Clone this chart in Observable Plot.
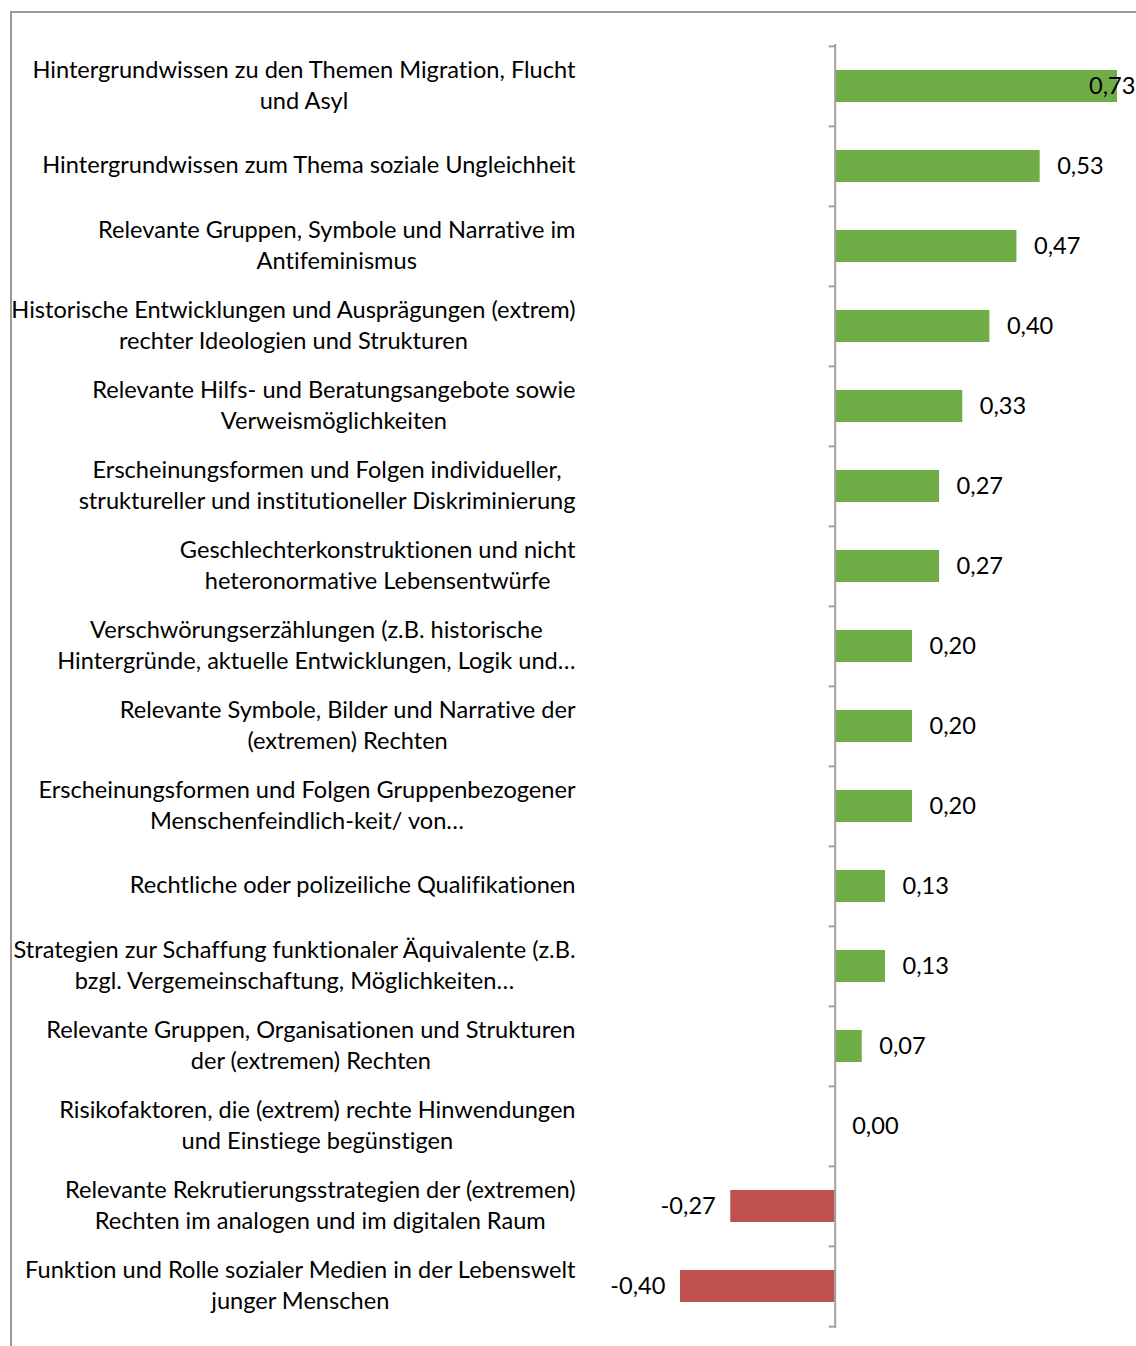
<!DOCTYPE html>
<html><head><meta charset="utf-8">
<script src="https://cdn.jsdelivr.net/npm/d3@7"></script>
<script src="https://cdn.jsdelivr.net/npm/@observablehq/plot@0.6"></script>
<style>
body{margin:0;background:#fff;}
#wrap{position:relative;width:1136px;height:1346px;overflow:hidden;}
#border{position:absolute;left:10px;top:11px;width:1200px;height:1400px;border-left:2px solid #9a9a9a;border-top:2px solid #9a9a9a;}
#chart{position:absolute;left:0;top:0;}
#chart svg text{font-variant-ligatures:none;font-feature-settings:"liga" 0;}
</style></head><body>
<div id="wrap"><div id="border"></div><div id="chart"></div></div>
<script>
const categories = [
  "Hintergrundwissen zu den Themen Migration, Flucht\nund Asyl",
  "Hintergrundwissen zum Thema soziale Ungleichheit",
  "Relevante Gruppen, Symbole und Narrative im\nAntifeminismus",
  "Historische Entwicklungen und Ausprägungen (extrem)\nrechter Ideologien und Strukturen",
  "Relevante Hilfs- und Beratungsangebote sowie\nVerweismöglichkeiten",
  "Erscheinungsformen und Folgen individueller,\nstruktureller und institutioneller Diskriminierung",
  "Geschlechterkonstruktionen und nicht\nheteronormative Lebensentwürfe",
  "Verschwörungserzählungen (z.B. historische\nHintergründe, aktuelle Entwicklungen, Logik und…",
  "Relevante Symbole, Bilder und Narrative der\n(extremen) Rechten",
  "Erscheinungsformen und Folgen Gruppenbezogener\nMenschenfeindlich-keit/ von…",
  "Rechtliche oder polizeiliche Qualifikationen",
  "Strategien zur Schaffung funktionaler Äquivalente (z.B.\nbzgl. Vergemeinschaftung, Möglichkeiten…",
  "Relevante Gruppen, Organisationen und Strukturen\nder (extremen) Rechten",
  "Risikofaktoren, die (extrem) rechte Hinwendungen\nund Einstiege begünstigen",
  "Relevante Rekrutierungsstrategien der (extremen)\nRechten im analogen und im digitalen Raum",
  "Funktion und Rolle sozialer Medien in der Lebenswelt\njunger Menschen"
];
const values = [0.73, 0.53, 0.47, 0.40, 0.33, 0.27, 0.27, 0.20, 0.20, 0.20, 0.13, 0.13, 0.07, 0.00, -0.27, -0.40];
const xDomain = [-0.40, 0.73];

const data = categories.map((c, i) => ({cat: c, v: values[i]}));
const fmt = v => d3.format(".2f")(v).replace(".", ",").replace("\u2212", "-");

const FONT = 23.6;
const W = 1136, H = 1346, MT = 44, MB = 18;
const step = (H - MT - MB) / categories.length;
const axisColor = "#a0a0a0";
const maxV = d3.max(values);

const plot = Plot.plot({
  width: W, height: H,
  marginTop: MT, marginBottom: MB, marginLeft: 680, marginRight: 19,
  style: {fontFamily: "Lato, 'Open Sans', sans-serif", fontSize: FONT + "px", background: "transparent", overflow: "visible", color: "#000"},
  x: {domain: xDomain, axis: null},
  y: {domain: categories, paddingInner: 0.6, paddingOuter: 0.3, label: null},
  marks: [
    Plot.barX(data.filter(d => d.v >= 0), {x: "v", y: "cat", fill: "#70AD47"}),
    Plot.barX(data.filter(d => d.v < 0), {x: "v", y: "cat", fill: "#C0504D"}),
    Plot.ruleX([0], {stroke: axisColor, strokeWidth: 2}),
    Plot.ruleY(categories, {y: d => d, x1: 0, x2: 0, insetLeft: -6, dy: -step / 2, stroke: axisColor, strokeWidth: 2}),
    Plot.ruleY(categories.slice(-1), {y: d => d, x1: 0, x2: 0, insetLeft: -6, dy: step / 2, stroke: axisColor, strokeWidth: 2}),
    Plot.axisY({anchor: "left", label: null, tickSize: 0, tickPadding: 105, textAnchor: "end", lineHeight: 31 / FONT, dy: -3, fill: "#000", fontSize: FONT}),
    Plot.text(data.filter(d => d.v >= 0 && d.v < maxV), {x: "v", y: "cat", text: d => fmt(d.v), textAnchor: "start", dx: 17, fill: "#000", fontSize: FONT}),
    Plot.text(data.filter(d => d.v === maxV), {y: "cat", frameAnchor: "right", text: d => fmt(d.v), textAnchor: "end", dx: 18, fill: "#000", fontSize: FONT}),
    Plot.text(data.filter(d => d.v < 0), {x: "v", y: "cat", text: d => fmt(d.v), textAnchor: "end", dx: -15, fill: "#000", fontSize: FONT})
  ]
});
document.getElementById("chart").appendChild(plot);

// center the lines of each multi-line category label within its block
plot.querySelectorAll('g[aria-label="y-axis tick label"] text').forEach(t => {
  const spans = t.querySelectorAll("tspan");
  if (spans.length < 2) return;
  const maxW = d3.max(Array.from(spans), s => s.getComputedTextLength());
  t.setAttribute("text-anchor", "middle");
  spans.forEach(s => { s.setAttribute("x", -maxW / 2); s.setAttribute("text-anchor", "middle"); });
});
</script>
</body></html>
